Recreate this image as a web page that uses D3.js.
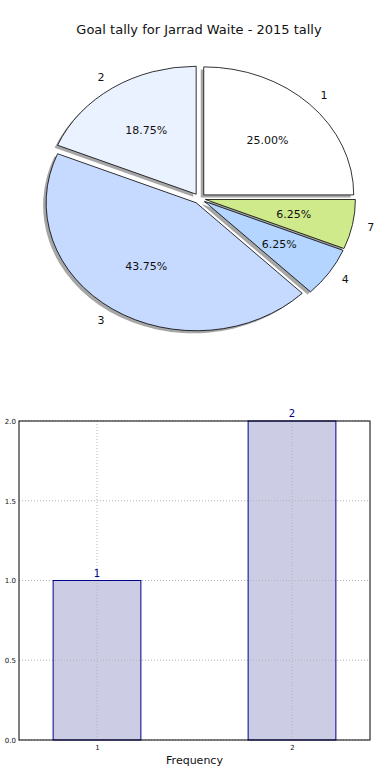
<!DOCTYPE html>
<html>
<head>
<meta charset="utf-8">
<script src="https://cdn.jsdelivr.net/npm/d3@7"></script>
<style>
  body { margin: 0; background: #fff; }
  svg { display: block; font-family: "DejaVu Sans", sans-serif; }
</style>
</head>
<body>
<div id="chart"></div>
<script>
// pie data: goals per game -> number of games
const pieLabels = ['1', '2', '3', '4', '7'];
const pieValues = [4, 3, 7, 1, 1];
const pieColors = ['#ffffff', '#eaf1ff', '#c6d9ff', '#b3d5ff', '#cfea8a'];

// bar data
const barCats = [1, 2];
const barValues = [1, 2];
const yTicks = [0, 0.5, 1.0, 1.5, 2.0];

const width = 390, height = 780;
const svg = d3.select('#chart').append('svg')
  .attr('width', width)
  .attr('height', height);

// Title
svg.append('text')
  .attr('x', 199)
  .attr('y', 34)
  .attr('text-anchor', 'middle')
  .style('font-size', '13px')
  .style('fill', '#111')
  .text('Goal tally for Jarrad Waite - 2015 tally');

// ---- Pie (matplotlib-ish, not equal aspect so it's an ellipse) ----
const cx = 199.5, cy = 198.5, rx = 150, ry = 128;
const explode = 0.04;

const pie = d3.pie().sort(null)
  .startAngle(Math.PI / 2)            // d3 angle: 0 at top, clockwise
  .endAngle(Math.PI / 2 - 2 * Math.PI); // go counter-clockwise from 3 o'clock

const arcs = pie(pieValues);
const total = d3.sum(pieValues);

// unit arc, then scale to ellipse
const arcGen = d3.arc().innerRadius(0).outerRadius(1);

const pieG = svg.append('g');

function midAngle(d) { return (d.startAngle + d.endAngle) / 2; }
function offs(d, k) {
  const a = midAngle(d);
  return [Math.sin(a) * k * rx, -Math.cos(a) * k * ry];
}

// shadows first
arcs.forEach(d => {
  const [ox, oy] = offs(d, explode);
  pieG.append('path')
    .attr('transform', `translate(${cx + ox - 0.02 * rx},${cy + oy + 0.02 * ry}) scale(${rx},${ry})`)
    .attr('d', arcGen(d))
    .attr('fill', '#4d4d4d')
    .attr('opacity', 0.5);
});

arcs.forEach((d, i) => {
  const [ox, oy] = offs(d, explode);
  pieG.append('path')
    .attr('transform', `translate(${cx + ox},${cy + oy}) scale(${rx},${ry})`)
    .attr('d', arcGen(d))
    .attr('fill', pieColors[i])
    .attr('stroke', '#000')
    .attr('stroke-width', 0.8)
    .attr('vector-effect', 'non-scaling-stroke');
});

// labels
arcs.forEach((d, i) => {
  const [ox, oy] = offs(d, explode);
  const a = midAngle(d);
  const lx = cx + ox + Math.sin(a) * 1.1 * rx;
  const ly = cy + oy - Math.cos(a) * 1.1 * ry;
  pieG.append('text')
    .attr('x', lx)
    .attr('y', ly)
    .attr('dy', '0.35em')
    .attr('text-anchor', Math.sin(a) > 0 ? 'start' : 'end')
    .style('font-size', '11px')
    .style('fill', '#111')
    .text(pieLabels[i]);

  const px = cx + ox + Math.sin(a) * 0.6 * rx;
  const py = cy + oy - Math.cos(a) * 0.6 * ry;
  pieG.append('text')
    .attr('x', px)
    .attr('y', py)
    .attr('dy', '0.35em')
    .attr('text-anchor', 'middle')
    .style('font-size', '11px')
    .style('fill', '#111')
    .text((pieValues[i] / total * 100).toFixed(2) + '%');
});

// ---- Bar chart ----
const margin = { top: 421, left: 19, right: 20, bottom: 40 };
const plotW = 370 - margin.left, plotH = 740 - margin.top;
const g = svg.append('g').attr('transform', `translate(${margin.left},${margin.top})`);

const x = d3.scaleLinear().domain([0.6, 2.4]).range([0, plotW]);
const y = d3.scaleLinear().domain([0, 2]).range([plotH, 0]);
const barW = 0.45;

// bar fills
g.selectAll('.bar')
  .data(barCats)
  .enter()
  .append('rect')
  .attr('class', 'bar')
  .attr('x', (d) => x(d - barW / 2))
  .attr('y', (d, i) => y(barValues[i]))
  .attr('width', x(barW) - x(0))
  .attr('height', (d, i) => plotH - y(barValues[i]))
  .attr('fill', '#ccccE5');

// grid (drawn over bar fill, like the reference)
g.selectAll('.ygrid')
  .data(yTicks)
  .enter()
  .append('line')
  .attr('x1', 0).attr('x2', plotW)
  .attr('y1', (d) => y(d)).attr('y2', (d) => y(d))
  .attr('stroke', '#b5b5b5')
  .attr('stroke-dasharray', '1,2');

g.selectAll('.xgrid')
  .data(barCats)
  .enter()
  .append('line')
  .attr('x1', (d) => x(d)).attr('x2', (d) => x(d))
  .attr('y1', 0).attr('y2', plotH)
  .attr('stroke', '#b5b5b5')
  .attr('stroke-dasharray', '1,2');

// bar edges
g.selectAll('.bar-edge')
  .data(barCats)
  .enter()
  .append('rect')
  .attr('class', 'bar-edge')
  .attr('x', (d) => x(d - barW / 2))
  .attr('y', (d, i) => y(barValues[i]))
  .attr('width', x(barW) - x(0))
  .attr('height', (d, i) => plotH - y(barValues[i]))
  .attr('fill', 'none')
  .attr('stroke', '#00008b')
  .attr('stroke-width', 1);

// frame
g.append('rect')
  .attr('width', plotW)
  .attr('height', plotH)
  .attr('fill', 'none')
  .attr('stroke', '#000')
  .attr('stroke-width', 1);

// axes
g.append('g')
  .attr('transform', `translate(0,${plotH})`)
  .call(d3.axisBottom(x).tickValues(barCats).tickFormat(d3.format('d')).tickSize(0).tickPadding(5))
  .call(a => a.select('.domain').remove())
  .selectAll('text')
  .style('font-size', '7px')
  .style('font-family', '"DejaVu Sans", sans-serif')
  .style('fill', '#111');

g.append('g')
  .call(d3.axisLeft(y).tickValues(yTicks).tickFormat(d3.format('.1f')).tickSize(0).tickPadding(3))
  .call(a => a.select('.domain').remove())
  .selectAll('text')
  .style('font-size', '7px')
  .style('font-family', '"DejaVu Sans", sans-serif')
  .style('fill', '#111');

// value labels
g.selectAll('.val')
  .data(barCats)
  .enter()
  .append('text')
  .attr('x', (d) => x(d))
  .attr('y', (d, i) => y(barValues[i]) - 4)
  .attr('text-anchor', 'middle')
  .style('font-size', '10px')
  .style('fill', '#00008b')
  .text((d, i) => barValues[i]);

// x label
svg.append('text')
  .attr('x', margin.left + plotW / 2)
  .attr('y', 764)
  .attr('text-anchor', 'middle')
  .style('font-size', '11px')
  .style('fill', '#111')
  .text('Frequency');
</script>
</body>
</html>
